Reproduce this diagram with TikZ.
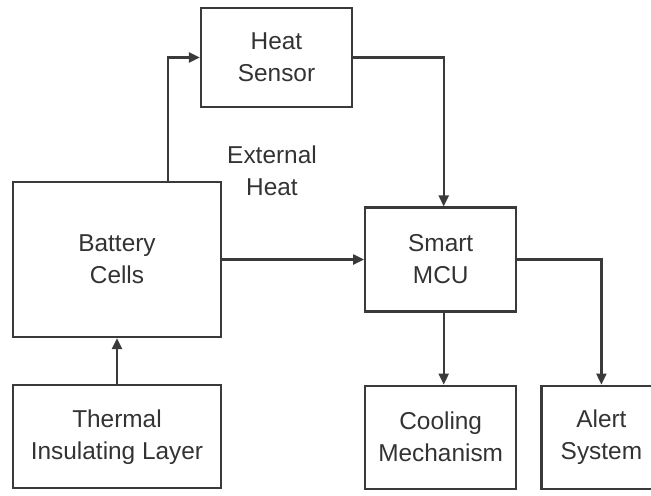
\documentclass[tikz,border=0pt]{standalone}
\usepackage{fontspec}
\setmainfont{Liberation Sans}
\usepackage{xcolor}
\usepackage{tikz}
\usetikzlibrary{positioning,arrows.meta}
\definecolor{ink}{HTML}{3A3A3A}
\definecolor{txt}{HTML}{333333}

\begin{document}
\begin{tikzpicture}[
  x=0.5pt, y=-0.5pt,
  font=\fontsize{12.2}{16}\selectfont,
  >={Triangle[length=5.5pt, width=5pt]},
  box/.style={draw=ink, line width=1.1pt, align=center, text=txt, inner sep=2pt},
  smallbox/.style={box, minimum width=75.5pt, minimum height=51.5pt},
  widebox/.style={box, minimum width=104pt},
  lbl/.style={text=txt, align=center},
  arr/.style={->, draw=ink, line width=1.1pt},
]
\clip (0,0) rectangle (651,495);
\node[widebox, minimum height=77.5pt] (battery) at (117,259.5) {Battery\\Cells};
\node[widebox, minimum height=51.5pt, below=23pt of battery] (thermal) {Thermal\\Insulating Layer};
\node[smallbox, minimum height=49.5pt] (sensor) at (276.5,57.5) {Heat\\Sensor};
\node[smallbox, minimum height=52pt, right=71pt of battery] (mcu) {Smart\\MCU};
\node[smallbox, below=36pt of mcu] (cooling) {Cooling\\Mechanism};
\node[box, minimum width=60pt, minimum height=51.5pt, right=11.5pt of cooling] (alert) {Alert\\System};
\node[lbl] (ext) at (272,171) {External\\Heat};
\draw[arr] ([xshift=25.5pt]battery.north) |- (sensor.west);
\draw[arr] (sensor.east) -| ([xshift=1.5pt]mcu.north);
\draw[arr] (battery.east) -- (battery.east -| mcu.west);
\draw[arr] (thermal.north) -- (battery.south);
\draw[arr] ([xshift=1.5pt]mcu.south) -- ([xshift=1.5pt]cooling.north);
\draw[arr] (mcu.east) -| (alert.north);
\end{tikzpicture}
\end{document}
